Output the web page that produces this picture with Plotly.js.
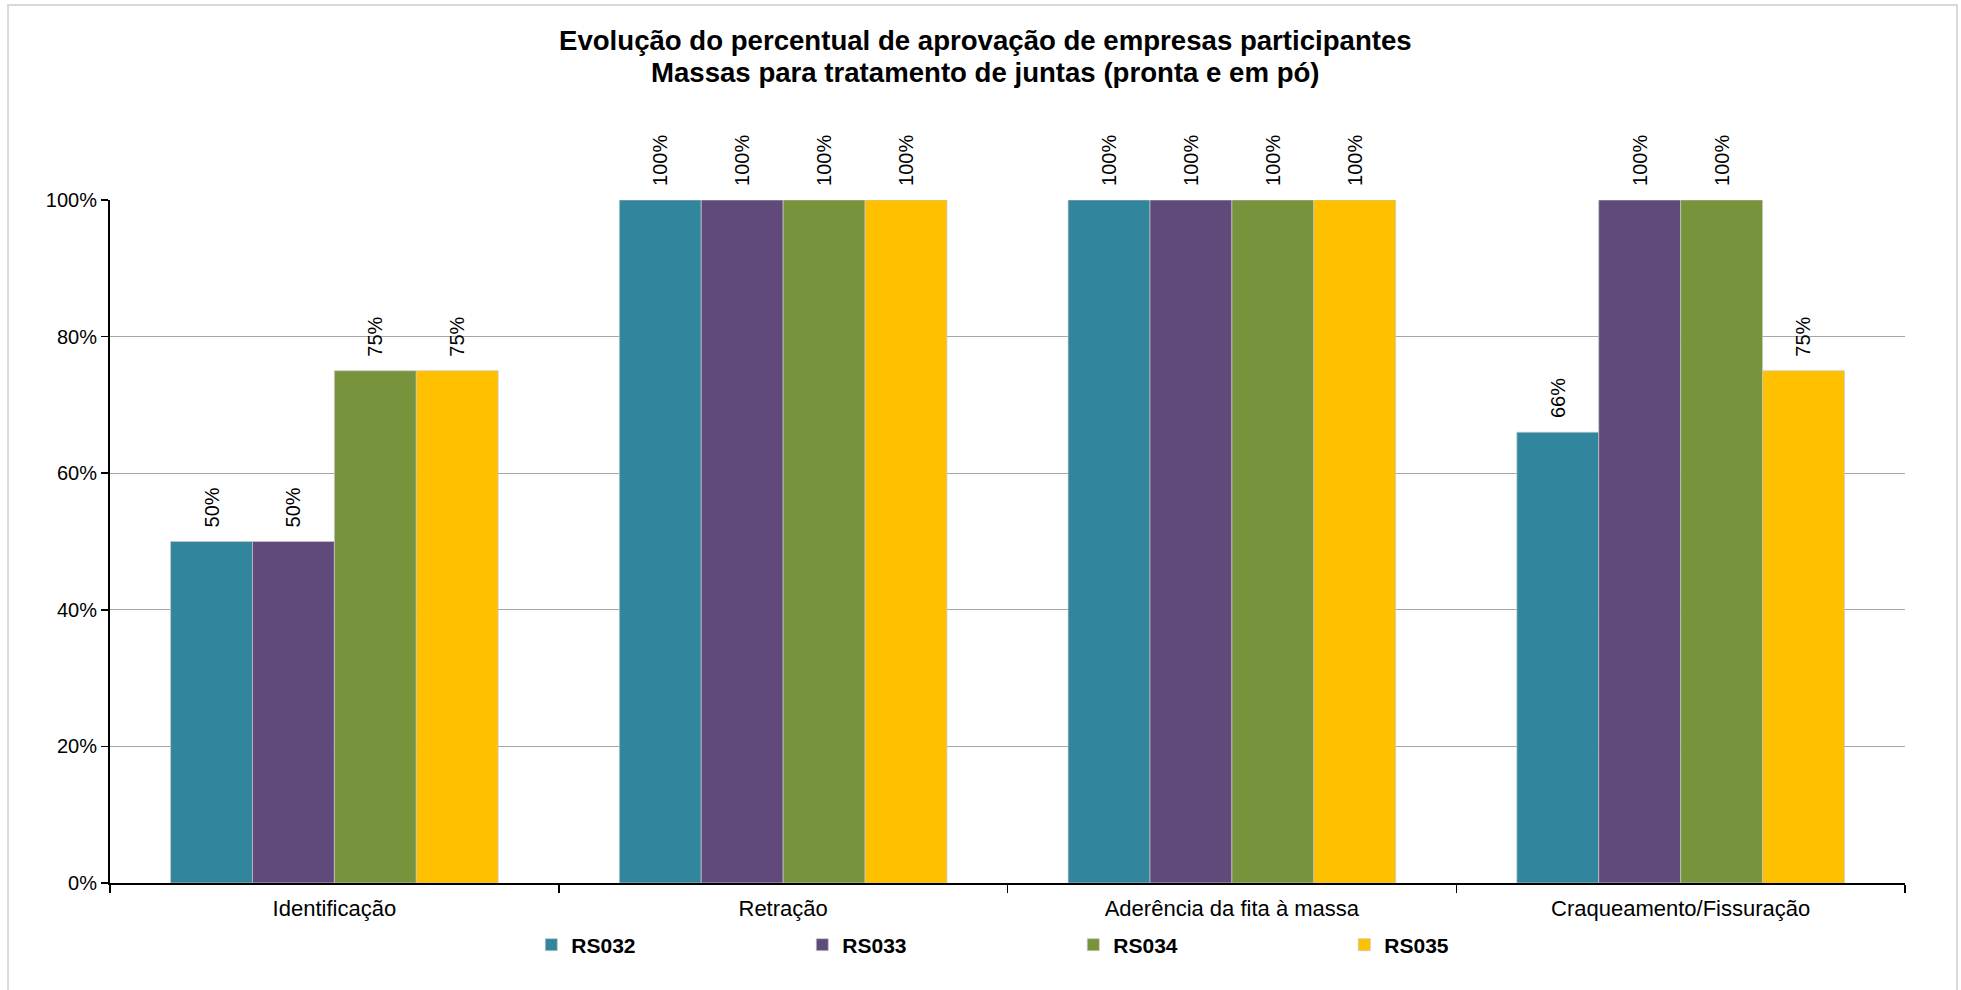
<!DOCTYPE html>
<html>
<head>
<meta charset="utf-8">
<script src="https://cdn.plot.ly/plotly-3.0.1.min.js"></script>
<style>
  html, body { margin: 0; padding: 0; background: #ffffff; }
  #chart { width: 1961px; height: 990px; }
</style>
</head>
<body>
<div id="chart"></div>
<script>
const categories = ["Identificação", "Retração", "Aderência da fita à massa", "Craqueamento/Fissuração"];
const seriesNames = ["RS032", "RS033", "RS034", "RS035"];
const rs032 = [0.50, 1.00, 1.00, 0.66];
const rs033 = [0.50, 1.00, 1.00, 1.00];
const rs034 = [0.75, 1.00, 1.00, 1.00];
const rs035 = [0.75, 1.00, 1.00, 0.75];
const yTickValues = [0, 0.2, 0.4, 0.6, 0.8, 1.0];
const yTickLabels = ["0%", "20%", "40%", "60%", "80%", "100%"];
const titleLines = ["Evolução do percentual de aprovação de empresas participantes", "Massas para tratamento de juntas (pronta e em pó)"];
const colors = ["#31859C", "#604A7B", "#77933C", "#FFC000"];

const allValues = [rs032, rs033, rs034, rs035];
const FONT = "Liberation Sans, Arial, sans-serif";

const traces = allValues.map((vals, i) => ({
  type: "bar",
  name: seriesNames[i],
  x: categories,
  y: vals,
  marker: { color: colors[i], line: { color: "rgba(200,200,200,0.7)", width: 1 } },
  text: vals.map(v => "\u00a0\u00a0" + Math.round(v * 100) + "%"),
  textposition: "outside",
  textangle: -90,
  constraintext: "none",
  cliponaxis: false,
  textfont: { family: FONT, size: 20, color: "#000000" },
  hoverinfo: "x+y+name"
}));

const layout = {
  width: 1961,
  height: 990,
  paper_bgcolor: "#ffffff",
  plot_bgcolor: "#ffffff",
  margin: { l: 110, r: 56, t: 200, b: 107 },
  barmode: "group",
  bargap: 0.27,
  bargroupgap: 0,
  annotations: titleLines.map((t, i) => ({
    text: "<b>" + t + "</b>",
    xref: "paper", yref: "paper",
    x: (985 - 110) / 1795,
    y: (883 - (40 + 33 * i)) / 683,
    xanchor: "center", yanchor: "middle",
    showarrow: false,
    font: { family: FONT, size: 27.6, color: "#000000" }
  })),
  xaxis: {
    type: "category",
    showline: true,
    linecolor: "#000000",
    linewidth: 2,
    ticks: "outside",
    tickson: "boundaries",
    ticklen: 8,
    tickwidth: 1.5,
    tickcolor: "#000000",
    showgrid: false,
    ticklabelstandoff: 5,
    tickfont: { family: FONT, size: 22, color: "#000000" },
    fixedrange: true
  },
  yaxis: {
    range: [0, 1],
    tickvals: yTickValues,
    ticktext: yTickLabels,
    showline: true,
    linecolor: "#000000",
    linewidth: 2,
    ticks: "outside",
    ticklen: 7,
    tickwidth: 1.5,
    tickcolor: "#000000",
    showgrid: true,
    gridcolor: "#A6A6A6",
    gridwidth: 1,
    zeroline: false,
    tickfont: { family: FONT, size: 20, color: "#000000" },
    fixedrange: true
  },
  legend: {
    orientation: "h",
    x: 0.2347,
    xanchor: "left",
    y: -0.0908,
    yanchor: "middle",
    entrywidth: 226,
    entrywidthmode: "pixels",
    itemwidth: 30,
    font: { family: FONT, size: 21, color: "#000000", weight: "bold" },
    bgcolor: "rgba(0,0,0,0)"
  },
  shapes: [{
    type: "rect",
    xref: "paper", yref: "paper",
    x0: -0.0568, x1: 1.029,
    y0: -0.17, y1: 1.2855,
    line: { color: "#D9D9D9", width: 2 },
    fillcolor: "rgba(0,0,0,0)",
    layer: "below"
  }],
  showlegend: true
};

Plotly.newPlot("chart", traces, layout, { displayModeBar: false, staticPlot: true });
</script>
</body>
</html>
